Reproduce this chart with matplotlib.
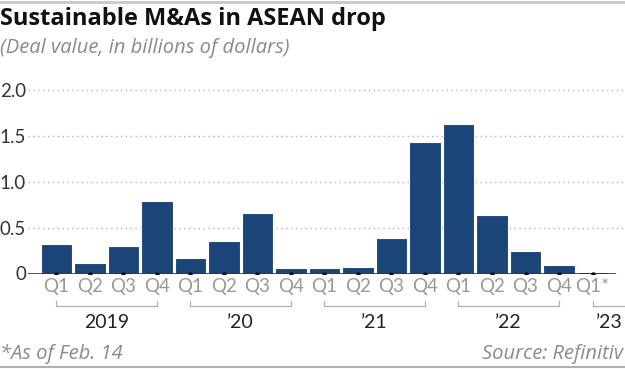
import numpy as np
import matplotlib.pyplot as plt
import matplotlib.transforms as mtransforms
from matplotlib.lines import Line2D

# data
quarters = ['Q1', 'Q2', 'Q3', 'Q4'] * 4 + ['Q1*']
values = [0.32, 0.11, 0.30, 0.79,
          0.17, 0.36, 0.66, 0.06,
          0.06, 0.07, 0.39, 1.44,
          1.63, 0.64, 0.25, 0.09,
          0.02]
years = ['2019', '\u201920', '\u201921', '\u201922', '\u201923']
yticks = [0, 0.5, 1.0, 1.5, 2.0]
ytick_labels = ['0', '0.5', '1.0', '1.5', '2.0']

plt.rcParams['font.family'] = ['Open Sans', 'DejaVu Sans']
LATO = ['Lato', 'DejaVu Sans']

W, H = 625, 369
fig = plt.figure(figsize=(W / 100, H / 100), dpi=100)

def fx(px):
    return px / W

def fy(px):
    return 1 - px / H

ax = fig.add_axes([fx(28), fy(273.5), fx(625 - 28), (273.5 - 85) / H])
x = np.arange(len(values))
ax.bar(x, values, width=0.93, color='#1b4579', edgecolor='white', linewidth=0.8, zorder=3)
ax.scatter(x, np.zeros(len(x)), s=5, color='#111111', zorder=5)

ax.set_xlim(-0.85, 16.97)
ax.set_ylim(0, 2.06)
ax.set_yticks(yticks)
ax.set_yticklabels(ytick_labels)
ax.yaxis.grid(True, linestyle=(0, (1, 2.5)), color='#b5b5b5', linewidth=1, zorder=0)
ax.axhline(0, xmin=0, xmax=0.984, color='#333333', linewidth=1.2, zorder=4)
for s in ax.spines.values():
    s.set_visible(False)
ax.tick_params(axis='y', length=0, pad=1.5, labelsize=13.5, labelcolor='#333333')
ax.set_xticks(x)
ax.set_xticklabels(quarters)
ax.tick_params(axis='x', length=0, pad=3, labelsize=13.5, labelcolor='#999999')
for t in ax.get_xticklabels() + ax.get_yticklabels():
    t.set_family(LATO)

# year brackets
tr = mtransforms.blended_transform_factory(ax.transData, fig.transFigure)
last = len(values) - 1
for i, yr in enumerate(years):
    start = i * 4
    end = start + 3
    ax.add_line(Line2D([start, start, end, end],
                       [fy(301), fy(305.5), fy(305.5), fy(301)],
                       transform=tr, color='#b0b0b0', linewidth=0.9, clip_on=False))
    cx = min(start + 1.5, last + 0.5)
    fig.text(0, 0, yr, transform=tr, fontsize=14, color='#222222', family=LATO,
             ha='center', va='center').set_position((cx, fy(322)))

# titles and notes
fig.text(0, fy(19), 'Sustainable M&As in ASEAN drop', fontsize=17, fontweight='bold',
         color='#111111', va='center', ha='left')
fig.text(0, fy(48), '(Deal value, in billions of dollars)', fontsize=14.5, style='italic',
         color='#8a8a8a', va='center', ha='left')
fig.text(0, fy(354), '*As of Feb. 14', fontsize=14.5, style='italic',
         color='#8a8a8a', va='center', ha='left')
fig.text(fx(623), fy(354), 'Source: Refinitiv', fontsize=14.5, style='italic',
         color='#8a8a8a', va='center', ha='right')

fig.add_artist(Line2D([0, 1], [fy(1.5), fy(1.5)], color='#c8c8c8', linewidth=2))
fig.add_artist(Line2D([0, 1], [fy(366.5), fy(366.5)], color='#b0b0b0', linewidth=1.5))

fig.savefig('out.png', dpi=100)
